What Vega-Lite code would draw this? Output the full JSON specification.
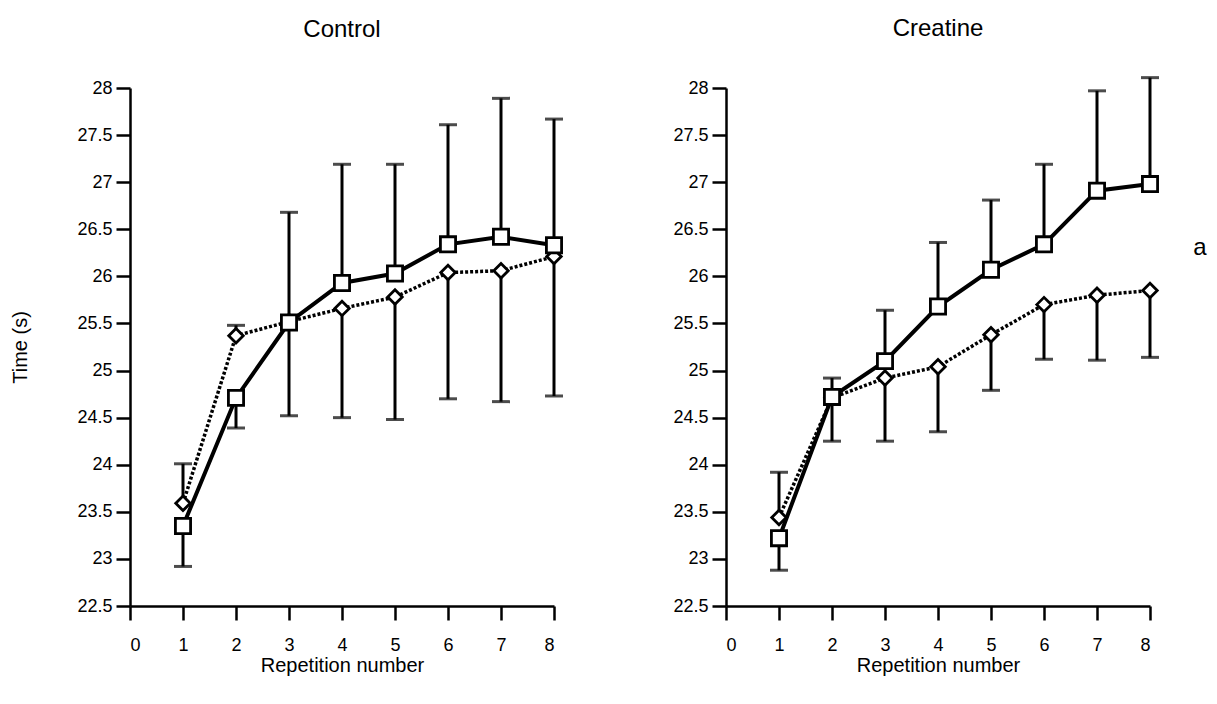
{
  "$schema": "https://vega.github.io/schema/vega-lite/v6.json",
  "padding": {"left": 10, "top": 17, "right": 8, "bottom": 8},
  "background": "white",
  "bounds": "flush",
  "spacing": 172,
  "config": {
    "view": {"stroke": null},
    "font": "Liberation Sans",
    "axis": {
      "grid": false,
      "domainColor": "black",
      "domainWidth": 2.5,
      "tickColor": "black",
      "tickWidth": 2.5,
      "tickSize": 14,
      "labelColor": "black",
      "labelFont": "Liberation Sans",
      "labelFontSize": 18,
      "titleFont": "Liberation Sans",
      "titleFontSize": 20,
      "titleFontWeight": "normal",
      "titleColor": "black"
    },
    "title": {"font": "Liberation Sans", "fontSize": 24, "fontWeight": "normal", "color": "black", "offset": 36}
  },
  "datasets": {
    "pts": [
      {"panel": "Control", "series": "sq", "rep": 1, "value": 23.35, "end": 22.92},
      {"panel": "Control", "series": "sq", "rep": 2, "value": 24.71, "end": 24.39},
      {"panel": "Control", "series": "sq", "rep": 3, "value": 25.51, "end": 26.68},
      {"panel": "Control", "series": "sq", "rep": 4, "value": 25.93, "end": 27.19},
      {"panel": "Control", "series": "sq", "rep": 5, "value": 26.03, "end": 27.19},
      {"panel": "Control", "series": "sq", "rep": 6, "value": 26.34, "end": 27.61},
      {"panel": "Control", "series": "sq", "rep": 7, "value": 26.42, "end": 27.89},
      {"panel": "Control", "series": "sq", "rep": 8, "value": 26.33, "end": 27.67},
      {"panel": "Control", "series": "dm", "rep": 1, "value": 23.59, "end": 24.01},
      {"panel": "Control", "series": "dm", "rep": 2, "value": 25.37, "end": 25.48},
      {"panel": "Control", "series": "dm", "rep": 3, "value": 25.52, "end": 24.52},
      {"panel": "Control", "series": "dm", "rep": 4, "value": 25.66, "end": 24.5},
      {"panel": "Control", "series": "dm", "rep": 5, "value": 25.78, "end": 24.48},
      {"panel": "Control", "series": "dm", "rep": 6, "value": 26.04, "end": 24.7},
      {"panel": "Control", "series": "dm", "rep": 7, "value": 26.06, "end": 24.67},
      {"panel": "Control", "series": "dm", "rep": 8, "value": 26.21, "end": 24.73},
      {"panel": "Creatine", "series": "sq", "rep": 1, "value": 23.22, "end": 22.88},
      {"panel": "Creatine", "series": "sq", "rep": 2, "value": 24.72, "end": 24.92},
      {"panel": "Creatine", "series": "sq", "rep": 3, "value": 25.1, "end": 25.64},
      {"panel": "Creatine", "series": "sq", "rep": 4, "value": 25.68, "end": 26.36},
      {"panel": "Creatine", "series": "sq", "rep": 5, "value": 26.07, "end": 26.81},
      {"panel": "Creatine", "series": "sq", "rep": 6, "value": 26.34, "end": 27.19},
      {"panel": "Creatine", "series": "sq", "rep": 7, "value": 26.91, "end": 27.97},
      {"panel": "Creatine", "series": "sq", "rep": 8, "value": 26.98, "end": 28.11},
      {"panel": "Creatine", "series": "dm", "rep": 1, "value": 23.44, "end": 23.92},
      {"panel": "Creatine", "series": "dm", "rep": 2, "value": 24.71, "end": 24.25},
      {"panel": "Creatine", "series": "dm", "rep": 3, "value": 24.92, "end": 24.25},
      {"panel": "Creatine", "series": "dm", "rep": 4, "value": 25.04, "end": 24.35},
      {"panel": "Creatine", "series": "dm", "rep": 5, "value": 25.38, "end": 24.79},
      {"panel": "Creatine", "series": "dm", "rep": 6, "value": 25.7, "end": 25.12},
      {"panel": "Creatine", "series": "dm", "rep": 7, "value": 25.8, "end": 25.11},
      {"panel": "Creatine", "series": "dm", "rep": 8, "value": 25.85, "end": 25.14}
    ],
    "notes": [
      {"panel": "Creatine", "rep": 8.94, "value": 26.3, "label": "a"}
    ]
  },
  "hconcat": [
    {
      "title": {"text": "Control", "dy": -1},
      "width": 424,
      "height": 518,
      "data": {"name": "pts"},
      "transform": [{"filter": "datum.panel === 'Control'"}],
      "encoding": {
        "x": {"field": "rep", "type": "quantitative", "scale": {"domain": [0, 8], "nice": false, "zero": false},
              "axis": {"title": "Repetition number", "values": [0,1,2,3,4,5,6,7,8], "labelPadding": 16, "titlePadding": 1}},
        "y": {"field": "value", "type": "quantitative", "scale": {"domain": [22.5, 28], "nice": false, "zero": false},
              "axis": {"title": "Time (s)", "values": [22.5,23,23.5,24,24.5,25,25.5,26,26.5,27,27.5,28], "format": "~g", "labelPadding": 4, "titlePadding": 46}}
      },
      "layer": [
        {"mark": {"type": "rule", "color": "black", "strokeWidth": 3, "clip": false},
         "encoding": {"y2": {"field": "end"}}},
        {"mark": {"type": "tick", "orient": "horizontal", "color": "black", "thickness": 3, "size": 18, "clip": false},
         "encoding": {"y": {"field": "end", "type": "quantitative"}}},
        {"transform": [{"filter": "datum.series === 'dm'"}],
         "mark": {"type": "line", "color": "black", "strokeWidth": 3.5, "strokeDash": [3, 2]}, "encoding": {}},
        {"transform": [{"filter": "datum.series === 'sq'"}],
         "mark": {"type": "line", "color": "black", "strokeWidth": 4}, "encoding": {}},
        {"transform": [{"filter": "datum.series === 'dm'"}],
         "mark": {"type": "point", "shape": "diamond", "size": 210, "filled": true, "fill": "white", "stroke": "black", "strokeWidth": 2.8, "opacity": 1}},
        {"transform": [{"filter": "datum.series === 'sq'"}],
         "mark": {"type": "point", "shape": "square", "size": 230, "filled": true, "fill": "white", "stroke": "black", "strokeWidth": 2.8, "opacity": 1}}
      ]
    },
    {
      "title": {"text": "Creatine", "dy": 1},
      "width": 424,
      "height": 518,
      "data": {"name": "pts"},
      "transform": [{"filter": "datum.panel === 'Creatine'"}],
      "encoding": {
        "x": {"field": "rep", "type": "quantitative", "scale": {"domain": [0, 8], "nice": false, "zero": false},
              "axis": {"title": "Repetition number", "values": [0,1,2,3,4,5,6,7,8], "labelPadding": 16, "titlePadding": 1}},
        "y": {"field": "value", "type": "quantitative", "scale": {"domain": [22.5, 28], "nice": false, "zero": false},
              "axis": {"title": null, "values": [22.5,23,23.5,24,24.5,25,25.5,26,26.5,27,27.5,28], "format": "~g", "labelPadding": 4}}
      },
      "layer": [
        {"mark": {"type": "rule", "color": "black", "strokeWidth": 3, "clip": false},
         "encoding": {"y2": {"field": "end"}}},
        {"mark": {"type": "tick", "orient": "horizontal", "color": "black", "thickness": 3, "size": 18, "clip": false},
         "encoding": {"y": {"field": "end", "type": "quantitative"}}},
        {"transform": [{"filter": "datum.series === 'dm'"}],
         "mark": {"type": "line", "color": "black", "strokeWidth": 3.5, "strokeDash": [3, 2]}, "encoding": {}},
        {"transform": [{"filter": "datum.series === 'sq'"}],
         "mark": {"type": "line", "color": "black", "strokeWidth": 4}, "encoding": {}},
        {"transform": [{"filter": "datum.series === 'dm'"}],
         "mark": {"type": "point", "shape": "diamond", "size": 210, "filled": true, "fill": "white", "stroke": "black", "strokeWidth": 2.8, "opacity": 1}},
        {"transform": [{"filter": "datum.series === 'sq'"}],
         "mark": {"type": "point", "shape": "square", "size": 230, "filled": true, "fill": "white", "stroke": "black", "strokeWidth": 2.8, "opacity": 1}},
        {"data": {"name": "notes"},
         "mark": {"type": "text", "fontSize": 24, "font": "Liberation Sans", "color": "black", "align": "center", "baseline": "middle", "clip": false},
         "encoding": {"text": {"field": "label"}}}
      ]
    }
  ]
}
